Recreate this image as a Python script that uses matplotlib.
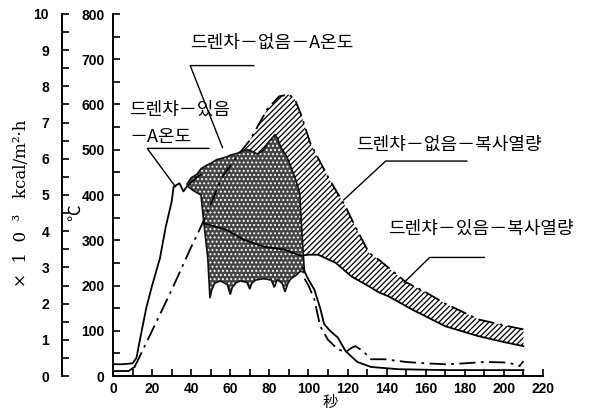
import matplotlib
matplotlib.use("Agg")
import matplotlib.pyplot as plt
import numpy as np

# === DATA ===
# dash-dot: drencher off, A temperature (upper edge of the hatched band)
t_off = np.array([0, 8, 11, 13, 20, 30, 40, 45, 50, 56, 63, 70, 79, 85, 90, 93, 96, 101,
                  110, 119, 124, 131, 136, 150, 160, 170, 187, 200, 210])
T_off = np.array([11, 11, 20, 37, 100, 190, 285, 330, 380, 440, 483, 521, 590, 618, 622, 612,
                  580, 514, 440, 374, 330, 272, 257, 207, 185, 160, 125, 112, 103])

# solid: drencher on, A temperature
t_on_rise = [0, 5, 10, 12, 14, 17, 20, 24, 27, 30, 31, 34, 36, 38, 41, 43, 45]
T_on_rise = [26, 26, 28, 40, 85, 150, 200, 260, 330, 385, 418, 426, 408, 420, 432, 440, 445]
t_on_fall = [97, 100, 103, 106, 108, 111, 115, 119, 125, 132, 146, 170, 210]
T_on_fall = [240, 213, 191, 150, 115, 100, 85, 55, 31, 20, 15, 13, 13]

# dash-dot tail after the drencher period
t_off_tail = [98, 100, 103, 106, 110, 115, 119, 122, 124, 128, 132, 139, 150, 160, 170,
              180, 190, 200, 206, 208, 210]
T_off_tail = [215, 200, 170, 110, 80, 59, 53, 62, 66, 55, 37, 37, 31, 28, 26, 28, 31, 30,
              26, 22, 33]

# solid: drencher on, radiant heat (lower edge of the hatched band)
t_rad = np.array([46, 58, 67, 77, 88, 96, 100, 105, 110, 114, 122, 131, 136, 141, 153,
                  170, 187, 200, 210])
T_rad = np.array([338, 323, 301, 286, 279, 266, 268, 268, 258, 250, 220, 198, 185, 176,
                  147, 110, 88, 75, 66])

# fluctuating zone (dotted area) outline
t_zone_top = [38, 40, 43, 45, 48, 50, 53, 58, 60, 63.5, 66, 69, 72, 74, 77, 79, 81, 83,
              84, 86, 89, 91, 93.5, 95.5, 96.5, 97.5]
T_zone_top = [425, 438, 446, 458, 466, 470, 478, 484, 488, 492, 497, 500, 495, 490, 500,
              514, 524, 534, 526, 505, 484, 462, 433, 405, 330, 260]
t_zone_bot = [98, 96, 93.5, 91, 89.5, 88, 86.5, 84, 82.5, 81, 77, 73, 71, 70, 68.5, 65,
              63, 61, 60, 58.5, 55, 52, 50.5, 49.6, 48.5, 46.5, 45, 41, 38]
T_zone_bot = [228, 232, 222, 215, 205, 186, 205, 213, 196, 212, 215, 212, 205, 192, 207,
              210, 206, 196, 180, 202, 210, 205, 190, 172, 260, 338, 400, 410, 420]

x_ticks = np.arange(0, 221, 20)
T_ticks = np.arange(0, 801, 100)
q_ticks = np.arange(0, 11, 1)

kr = ["Noto Sans CJK KR", "DejaVu Sans"]
plt.rcParams["font.family"] = ["Liberation Sans", "Noto Sans CJK KR", "DejaVu Sans"]
plt.rcParams["hatch.linewidth"] = 0.9

fig = plt.figure(figsize=(5.97, 4.11), dpi=100)
ax = fig.add_axes([113 / 597, 35 / 411, 430 / 597, 362 / 411])

# hatched band between the two curves
band_t = np.concatenate([t_off[t_off >= 50], t_rad[::-1][t_rad[::-1] >= 58]])
band_T = np.concatenate([T_off[t_off >= 50], T_rad[::-1][t_rad[::-1] >= 58]])
ax.fill(band_t, band_T, facecolor="white", edgecolor="black", hatch="//////", lw=0, zorder=1)

# dotted zone
zone_t = t_zone_top + t_zone_bot
zone_T = T_zone_top + T_zone_bot
ax.fill(zone_t, zone_T, facecolor="#454545", edgecolor="white", hatch="....", lw=0, zorder=2)
ax.fill(zone_t, zone_T, facecolor="none", edgecolor="#111111", lw=1.2, zorder=3)

dd = (0, (9, 3, 1.5, 3))
ax.plot(t_off[:3], T_off[:3], color="black", lw=1.3, zorder=4)
ax.plot(t_off[2:], T_off[2:], color="black", lw=1.3, linestyle=dd, zorder=4)
ax.plot(t_on_rise, T_on_rise, color="black", lw=1.3, zorder=4)
ax.plot(t_on_fall, T_on_fall, color="black", lw=1.3, zorder=4)
ax.plot(t_off_tail, T_off_tail, color="black", lw=1.3, linestyle=dd, zorder=4)
ax.plot(t_rad, T_rad, color="black", lw=1.3, zorder=4)

# labels with leader lines
lc = dict(color="black", lw=1.0, zorder=5, clip_on=False)
ax.plot([72, 39.5, 56], [686, 686, 505], **lc)
ax.plot([49, 17.5, 32], [503, 503, 418], **lc)
ax.plot([181, 139.5, 118], [475, 475, 389], **lc)
ax.plot([190, 162, 149], [262, 262, 207], **lc)

fs = 13
ax.text(81, 736, "드렌차－없음－A온도", ha="center", va="center", fontsize=fs, family=kr)
ax.text(8.5, 588, "드렌챠－있음", ha="left", va="center", fontsize=fs, family=kr)
ax.text(8.5, 528, "－A온도", ha="left", va="center", fontsize=fs, family=kr)
ax.text(172, 510, "드렌챠－없음－복사열량", ha="center", va="center", fontsize=fs, family=kr)
ax.text(188, 325, "드렌챠－있음－복사열량", ha="center", va="center", fontsize=fs, family=kr)

# axes
ax.set_xlim(0, 220)
ax.set_ylim(0, 800)
ax.set_xticks(x_ticks)
ax.set_xticks(np.arange(0, 221, 10), minor=True)
ax.set_yticks(T_ticks)
ax.set_yticks(np.arange(0, 801, 50), minor=True)
for s in ["top", "right"]:
    ax.spines[s].set_visible(False)
ax.spines["left"].set_linewidth(1.4)
ax.spines["bottom"].set_linewidth(1.4)
ax.tick_params(which="both", direction="in", length=5, width=1.2, labelsize=10)
ax.tick_params(axis="y", pad=6)
ax.tick_params(axis="x", pad=4)
for lab in ax.get_xticklabels() + ax.get_yticklabels():
    lab.set_fontweight("bold")

# heat flux axis on the far left
ax2 = ax.twinx()
ax2.set_ylim(0, 10)
ax2.set_yticks(q_ticks)
ax2.set_yticks(np.arange(0, 10.01, 0.5), minor=True)
ax2.spines["right"].set_visible(False)
ax2.spines["top"].set_visible(False)
ax2.spines["bottom"].set_visible(False)
ax2.spines["left"].set_visible(True)
ax2.spines["left"].set_position(("outward", 37))
ax2.spines["left"].set_linewidth(1.4)
ax2.yaxis.set_ticks_position("left")
ax2.yaxis.set_label_position("left")
ax2.tick_params(which="both", direction="in", length=5, width=1.2, labelsize=10, pad=9)
for lab in ax2.get_yticklabels():
    lab.set_fontweight("bold")

fig.text(22 / 597, 1 - 203 / 411, "×  1  0  ³   kcal/m²·h", rotation=90, ha="center",
         va="center", fontsize=12, family=["DejaVu Serif"])
fig.text(75 / 597, 1 - 213 / 411, "℃", rotation=90, ha="center", va="center", fontsize=12,
         family=kr)
fig.text(330 / 597, 1 - 402 / 411, "秒", ha="center", va="center", fontsize=11, family=kr)

fig.savefig("out.png", dpi=100)
plt.close(fig)
